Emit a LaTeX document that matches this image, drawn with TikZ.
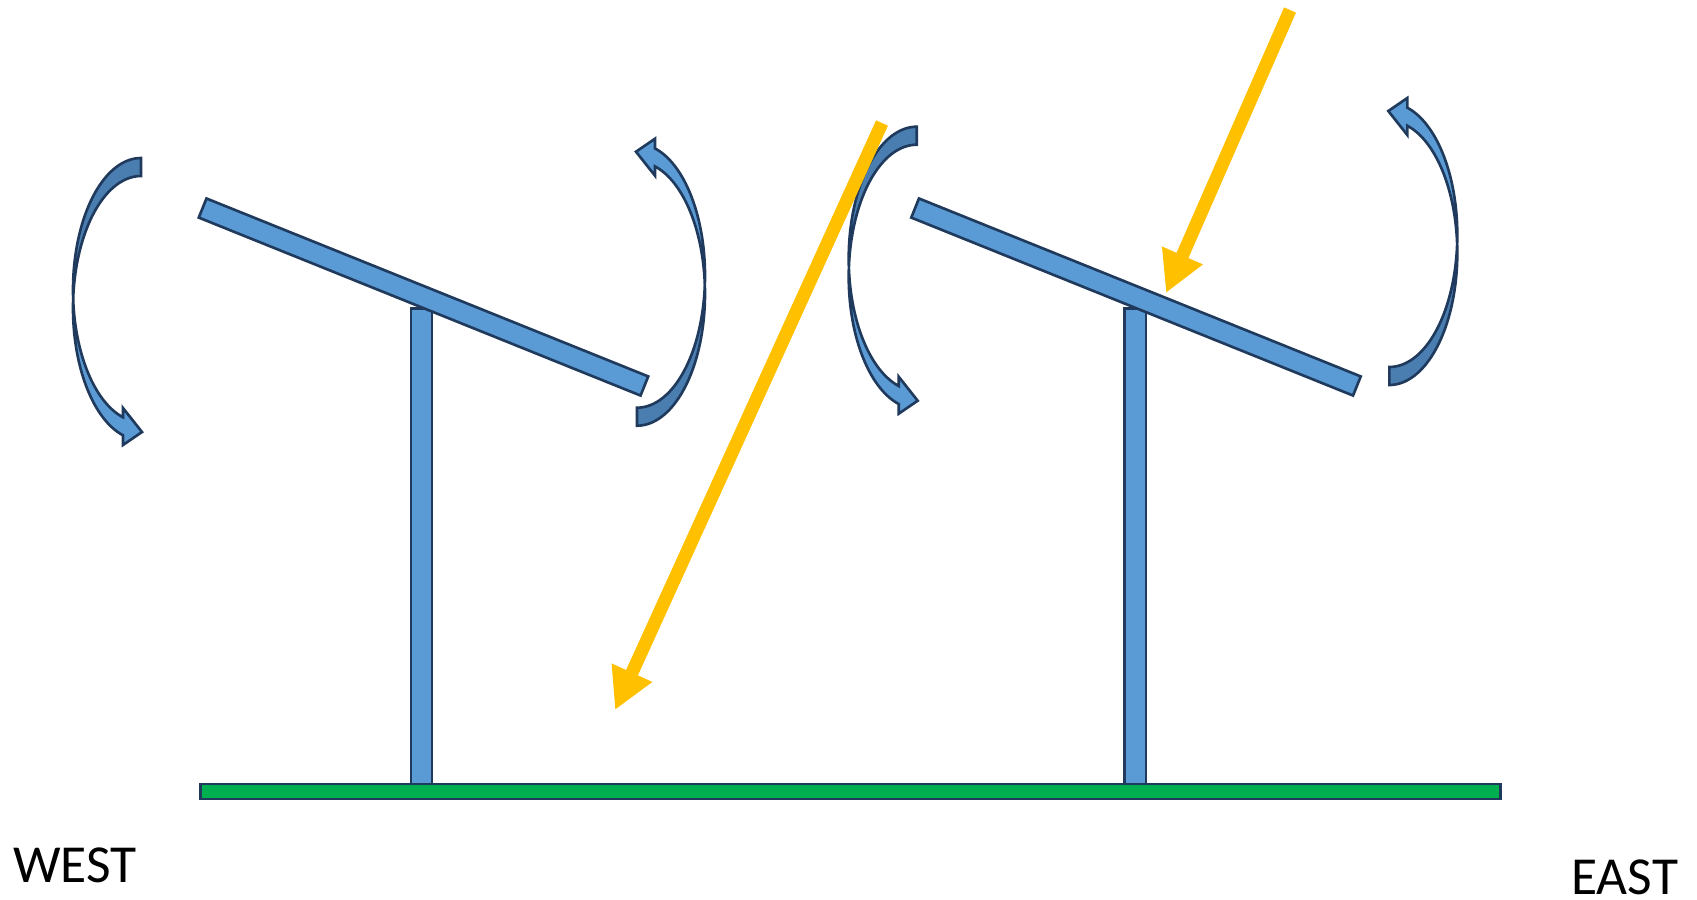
\documentclass[tikz,border=0pt]{standalone}
\usepackage{fontspec}
\setmainfont{Carlito}
\usepackage{tikz}
\usetikzlibrary{arrows.meta}
\definecolor{PanelBlue}{HTML}{5B9BD5}
\definecolor{ShadeBlue}{HTML}{4A7EB0}
\definecolor{EdgeNavy}{HTML}{1F3A5C}
\definecolor{SunGold}{HTML}{FFC000}
\definecolor{GrassGreen}{HTML}{00B050}

\begin{document}
\begin{tikzpicture}[x=0.01cm,y=-0.01cm,
    pnl/.style={rectangle,draw=EdgeNavy,fill=PanelBlue,line width=0.75pt,
                minimum width=47.6mm,minimum height=2.06mm,inner sep=0pt},
    pst/.style={rectangle,draw=EdgeNavy,fill=PanelBlue,line width=0.75pt,
                minimum width=2.1mm,minimum height=47.8mm,inner sep=0pt,anchor=north},
    gnd/.style={rectangle,draw=EdgeNavy,fill=GrassGreen,line width=0.75pt,
                minimum width=129.9mm,minimum height=1.5mm,inner sep=0pt},
    ray/.style={-{Triangle[length=4.1mm,width=4.15mm]},line width=3.7pt,SunGold},
    lbl/.style={font=\fontsize{15.2}{18}\selectfont,inner sep=0pt,text depth=0pt,
                anchor=base west},
    swing/.pic={
      \filldraw[draw=EdgeNavy,fill=ShadeBlue,line width=0.75pt]
        plot[domain=270:176.1,samples=40,variable=\t] ({68*cos(\t)},{132*sin(\t)})
        -- plot[domain=183.9:270,samples=40,variable=\t] ({68*cos(\t)},{18+132*sin(\t)}) -- cycle;
      \filldraw[draw=EdgeNavy,fill=PanelBlue,line width=0.75pt]
        plot[domain=183.9:105.35,samples=40,variable=\t] ({68*cos(\t)},{18+132*sin(\t)})
        -- (-18,155) -- (1,142) -- (-18,118)
        -- plot[domain=105.35:176.1,samples=40,variable=\t] ({68*cos(\t)},{132*sin(\t)}) -- cycle;
    }]
\useasboundingbox (0,0) rectangle (1697,899);
% trackers
\node[pst] (wpost) at (421.5,307) {};
\node[pst] (epost) at (1135.3,307) {};
\node[gnd] (ground) at (850.5,791.5) {};
\node[pnl,rotate=-21.94] (wpanel) at (423.5,297) {};
\node[pnl,rotate=-21.94] (epanel) at (1136,297) {};
% tilt arrows
\pic (wl) at (141,290) {swing};
\pic[rotate=180] (wr) at (637,293.7) {swing};
\pic (el) at (916.7,258.7) {swing};
\pic[rotate=180] (er) at (1389.3,253) {swing};
% sun rays
\coordinate (r1s) at (882,123); \coordinate (r1e) at (615,710);
\coordinate (r2s) at (1290,10); \coordinate (r2e) at (1166,293);
\draw[ray] (r1s) -- (r1e);
\draw[ray] (r2s) -- (r2e);
\node[lbl] (west) at (12.7,882.7) {WEST};
\node[lbl] (east) at (1570.7,894) {EAST};
\end{tikzpicture}
\end{document}
